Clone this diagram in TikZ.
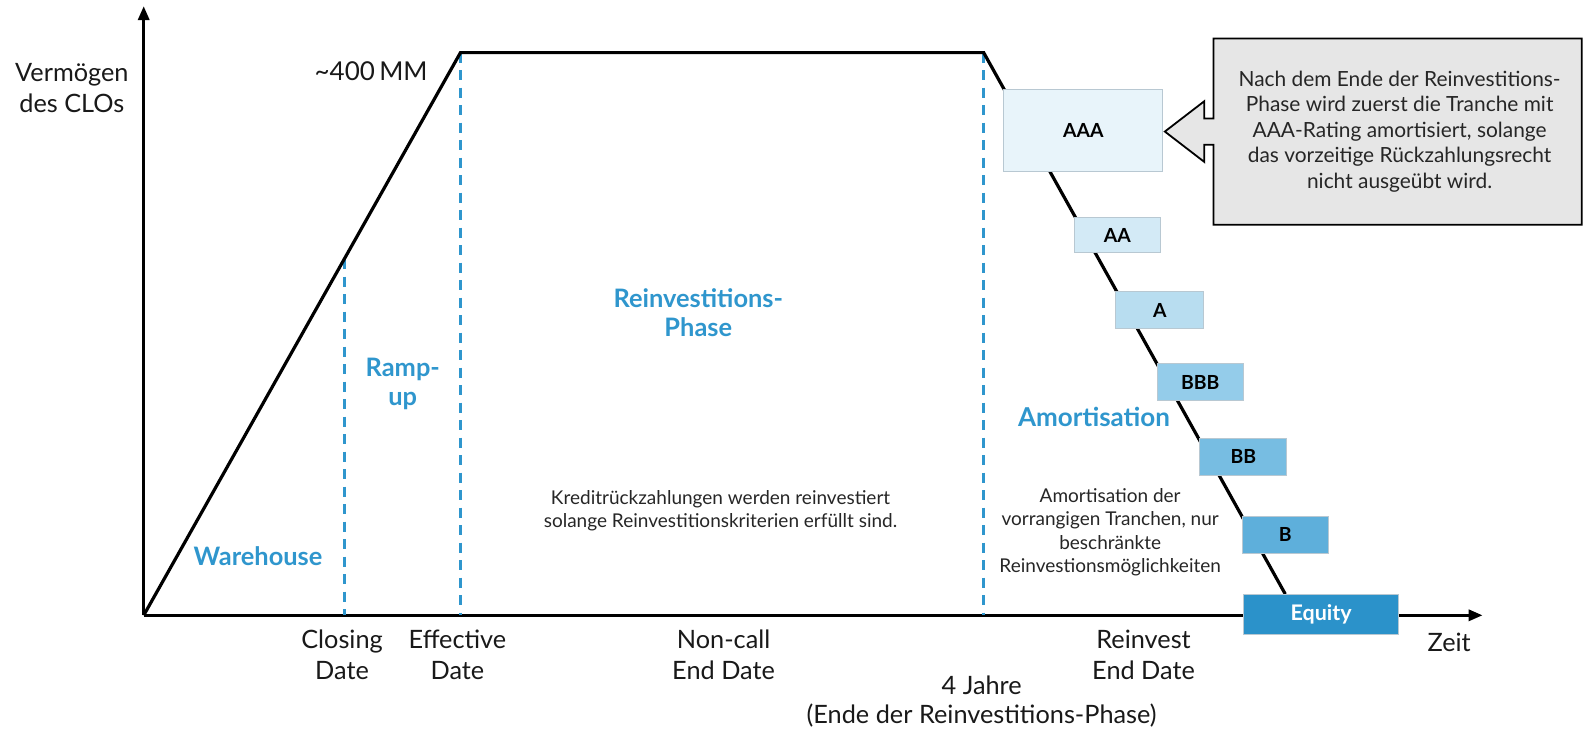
\documentclass[tikz,border=0pt]{standalone}
\usepackage{fontspec}
\setmainfont{Lato}
\usetikzlibrary{arrows.meta}
\definecolor{phaseblue}{HTML}{2F96CD}
\definecolor{boxline}{HTML}{B8C8D2}
\definecolor{calloutgray}{HTML}{E6E6E6}
\definecolor{trAAA}{HTML}{E8F4FA}
\definecolor{trAA}{HTML}{D3EAF6}
\definecolor{trA}{HTML}{B8DDF0}
\definecolor{trBBB}{HTML}{94CCEA}
\definecolor{trBB}{HTML}{77BDE2}
\definecolor{trB}{HTML}{5EAFDB}
\definecolor{trEq}{HTML}{2B92CA}
\tikzset{
  axis/.style={line width=3.2pt,-{Stealth[length=14pt,width=11pt,inset=0pt]}},
  profile/.style={line width=3.2pt,line join=miter},
  datemark/.style={phaseblue,line width=3pt,dash pattern=on 10pt off 7.5pt},
  phase/.style={phaseblue,font=\fontsize{25.4}{29}\selectfont\bfseries,align=center},
  ticklabel/.style={align=center,font=\fontsize{25.3}{30.4}\selectfont,text=black!90},
  note/.style={align=center,font=\fontsize{19}{23.3}\selectfont,text=black!85},
  tranche/.style={draw=boxline,line width=1pt,inner sep=0pt,
    font=\fontsize{19.4}{22}\selectfont\bfseries}
}
\begin{document}
\begin{tikzpicture}[x=1.012pt,y=-1.012pt]
\useasboundingbox (0,0) rectangle (1564.2,720.4);
% axes
\coordinate (origin) at (142,608);
\coordinate (ytop) at (142,6);
\coordinate (xend) at (1465,608);
\coordinate (full) at (455,52);
\coordinate (fullend) at (972,52);
\coordinate (empty) at (1270,587);
\coordinate (closing) at (340,256);
\draw[axis] (origin) -- (ytop);
\draw[axis] (origin) -- (xend);
% dates
\draw[datemark] (closing) -- (closing |- origin);
\draw[datemark] (full) -- (full |- origin);
\draw[datemark] (fullend) -- (fullend |- origin);
% asset profile
\draw[profile] (origin) -- (full) -- (fullend) -- (empty);
% tranches
\node[tranche,fill=trAAA,minimum width=159pt,minimum height=82pt] (aaa) at (1070.5,129) {AAA};
\node[tranche,fill=trAA,minimum width=86pt,minimum height=35pt] (aa) at (1104,232.5) {AA};
\node[tranche,fill=trA,minimum width=88pt,minimum height=37pt] (a) at (1146,306.5) {A};
\node[tranche,fill=trBBB,minimum width=86pt,minimum height=37pt] (bbb) at (1186,377.5) {BBB};
\node[tranche,fill=trBB,minimum width=87pt,minimum height=37pt] (bb) at (1228.5,451.5) {BB};
\node[tranche,fill=trB,minimum width=86pt,minimum height=37pt] (b) at (1270,528.5) {B};
\node[tranche,fill=trEq,text=white,minimum width=155pt,minimum height=40pt,
  font=\fontsize{21.5}{24}\selectfont\bfseries] (equity) at (1305.5,607) {Equity};
% callout
\draw[fill=calloutgray,line width=1.8pt,line join=miter]
  (1199,38) -- (1563,38) -- (1563,222) -- (1199,222) -- (1199,143)
  -- (1190,143) -- (1190,160) -- (1151,130) -- (1190,100) -- (1190,117)
  -- (1199,117) -- cycle;
\node[align=center,font=\fontsize{20.9}{25.6}\selectfont,text=black!85] (callout) at (1383,130)
  {Nach dem Ende der Reinvestitions-\\Phase wird zuerst die Tranche mit\\AAA-Rating amortisiert, solange\\das vorzeitige Rückzahlungsrecht\\nicht ausgeübt wird.};
% labels
\node[ticklabel] (ylabel) at (71,87) {Vermögen\\des CLOs};
\node[ticklabel,anchor=east,font=\fontsize{26}{30}\selectfont] (size) at (426,70) {\textasciitilde400\,MM};
\node[phase] (warehouse) at (255,550) {Warehouse};
\node[phase] (rampup) at (398,379) {Ramp-\\up};
\node[phase] (reinvest) at (690,309) {Reinvestitions-\\Phase};
\node[phase,font=\fontsize{26}{30}\selectfont\bfseries] (amort) at (1081,412) {Amortisation};
\node[note] (reinvnote) at (712,505) {Kreditrückzahlungen werden reinvestiert\\solange Reinvestitionskriterien erfüllt sind.};
\node[note] (amortnote) at (1097,526) {Amortisation der\\vorrangigen Tranchen, nur\\beschränkte\\Reinvestionsmöglichkeiten};
\node[ticklabel] (closingdate) at (338,647) {Closing\\Date};
\node[ticklabel] (effdate) at (452,647) {Effective\\Date};
\node[ticklabel] (noncall) at (715,647) {Non-call\\End Date};
\node[ticklabel] (reinvend) at (1130,647) {Reinvest\\End Date};
\node[ticklabel,font=\fontsize{25.3}{29}\selectfont] (years) at (970,693) {4 Jahre\\(Ende der Reinvestitions-Phase)};
\node[ticklabel] (zeit) at (1432,635) {Zeit};
\end{tikzpicture}
\end{document}
